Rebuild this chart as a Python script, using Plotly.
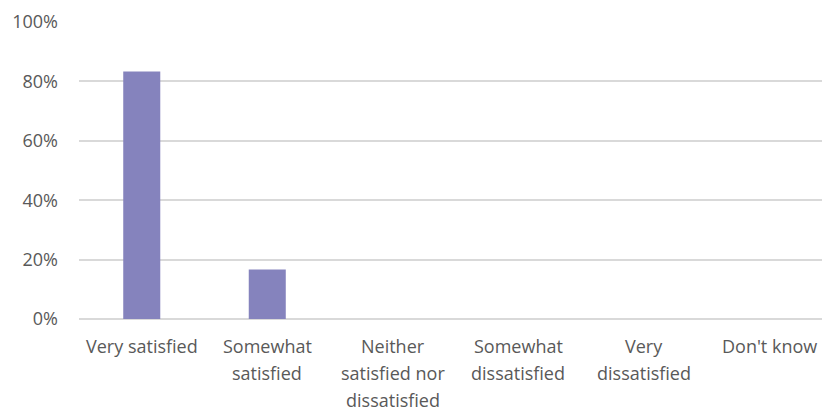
import plotly.graph_objects as go

# Survey responses: share of respondents per satisfaction level
categories = [
    "Very satisfied",
    "Somewhat satisfied",
    "Neither satisfied nor dissatisfied",
    "Somewhat dissatisfied",
    "Very dissatisfied",
    "Don't know",
]
tick_labels = [
    ["Very satisfied"],
    ["Somewhat", "satisfied"],
    ["Neither", "satisfied nor", "dissatisfied"],
    ["Somewhat", "dissatisfied"],
    ["Very", "dissatisfied"],
    ["Don't know"],
]
shares = [0.833, 0.167, 0.0, 0.0, 0.0, 0.0]
y_ticks = [0, 0.2, 0.4, 0.6, 0.8, 1.0]

text_color = "#595959"
grid_color = "#d9d9d9"
bar_color = "#8583bd"
font_family = "Open Sans, sans-serif"
label_size = 18
line_step = 27  # vertical distance between wrapped label lines

fig = go.Figure(
    go.Bar(
        x=categories,
        y=shares,
        marker=dict(color=bar_color, line=dict(width=0)),
        hovertemplate="%{x}: %{y:.0%}<extra></extra>",
    )
)

# Category labels, one annotation per wrapped line for wider line spacing
annotations = []
for cat, lines in zip(categories, tick_labels):
    for i, line in enumerate(lines):
        annotations.append(
            dict(
                x=cat,
                xref="x",
                y=0,
                yref="paper",
                text=line,
                showarrow=False,
                xanchor="center",
                yanchor="middle",
                yshift=-(line_step + line_step * i),
                font=dict(family=font_family, size=label_size, color=text_color),
            )
        )

fig.update_layout(
    width=822,
    height=410,
    margin=dict(l=79, r=0, t=22, b=91),
    paper_bgcolor="white",
    plot_bgcolor="white",
    bargap=0.705,
    showlegend=False,
    font=dict(family=font_family, size=label_size, color=text_color),
    annotations=annotations,
)

fig.update_xaxes(
    type="category",
    categoryorder="array",
    categoryarray=categories,
    range=[-0.5, 5.42],
    showticklabels=False,
    showgrid=False,
    showline=False,
    zeroline=False,
    ticks="",
)

fig.update_yaxes(
    range=[0, 1.0],
    tickmode="array",
    tickvals=y_ticks,
    tickformat=".0%",
    showgrid=True,
    gridcolor=grid_color,
    gridwidth=1.5,
    zeroline=True,
    zerolinecolor=grid_color,
    zerolinewidth=1.5,
    showline=False,
    ticks="",
    ticklabelstandoff=20,
    tickfont=dict(size=label_size, color=text_color),
)

fig.write_html("out.html")
